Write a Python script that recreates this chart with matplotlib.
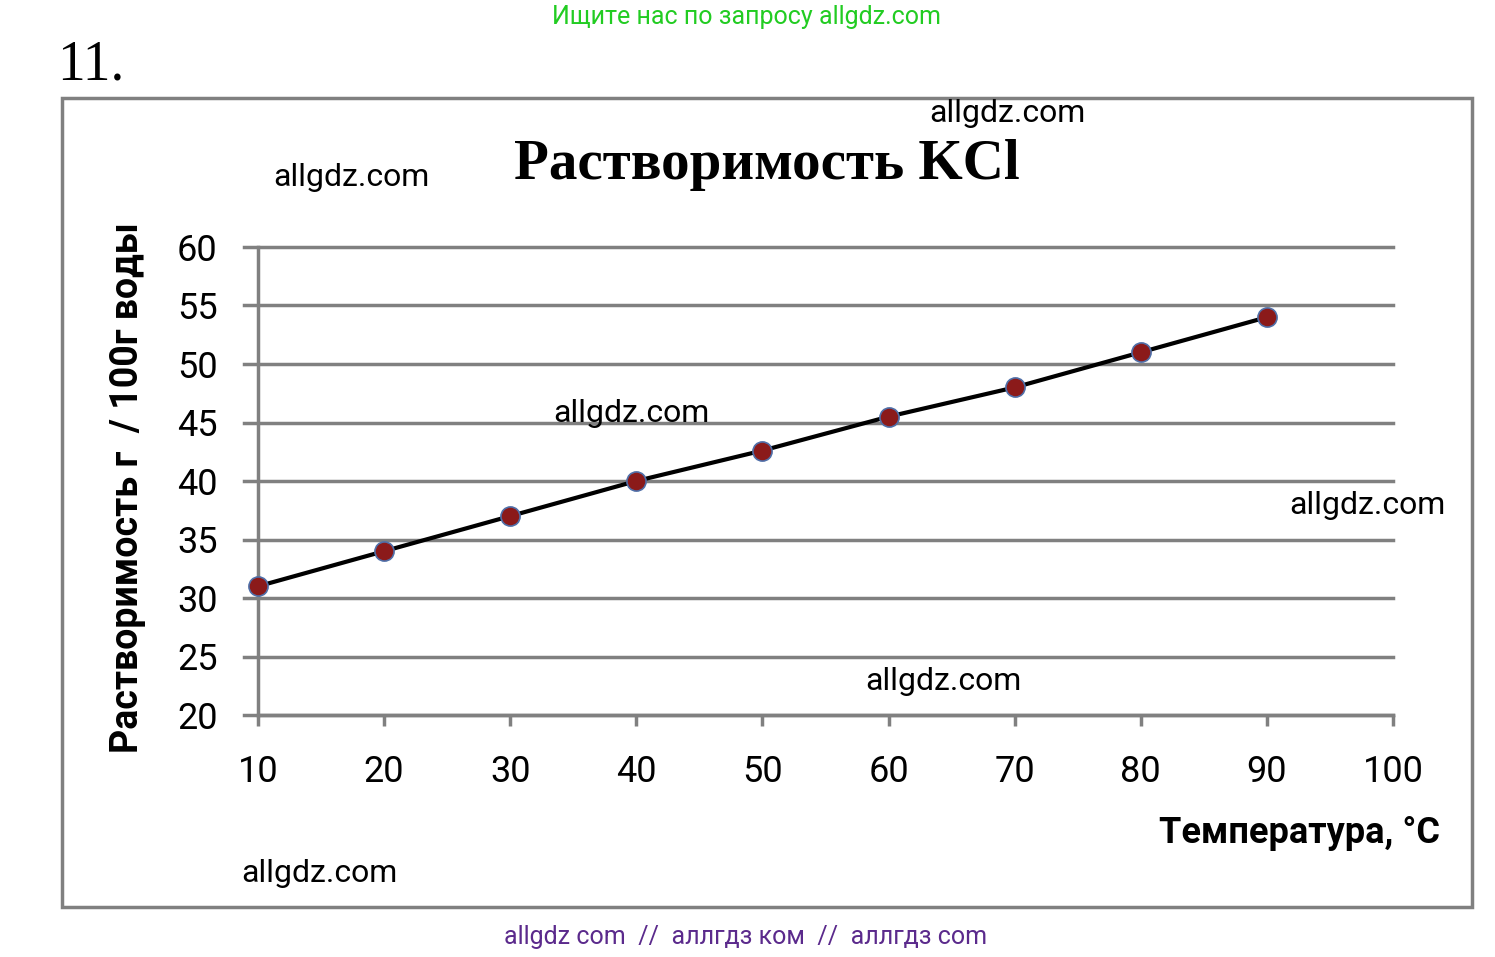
import matplotlib
matplotlib.use("Agg")
import matplotlib.pyplot as plt
from matplotlib.patches import Rectangle

temps = [10, 20, 30, 40, 50, 60, 70, 80, 90]
solub = [31, 34, 37, 40, 42.6, 45.5, 48, 51, 54]
xticks = [10, 20, 30, 40, 50, 60, 70, 80, 90, 100]
yticks = [20, 25, 30, 35, 40, 45, 50, 55, 60]

W, H = 1495, 957
fig = plt.figure(figsize=(W/100, H/100), dpi=100)
def fx(p): return p/W
def fy(p): return 1-p/H

fig.patches.append(Rectangle((fx(62), fy(907)), fx(1472)-fx(62), fy(98)-fy(907),
                             transform=fig.transFigure, fill=False, ec='#808080', lw=2.5))

ax = fig.add_axes([fx(258), fy(715), fx(1393)-fx(258), fy(247)-fy(715)])
ax.set_xlim(10, 100); ax.set_ylim(20, 60)
for y in yticks:
    ax.plot([8.9, 100], [y, y], color='#808080', lw=2.5, clip_on=False, zorder=1)
ax.plot(temps, solub, color='black', lw=3, zorder=2)
ax.scatter(temps, solub, s=190, color='#8B1A1A', edgecolors='#4F6FA8', linewidths=1.2,
           zorder=3, clip_on=False)
for s in ['top', 'right']:
    ax.spines[s].set_visible(False)
for s in ['left', 'bottom']:
    ax.spines[s].set_color('#808080'); ax.spines[s].set_linewidth(2.5)
ax.set_xticks(xticks); ax.set_yticks(yticks)
ax.tick_params(axis='y', length=0, pad=29, labelsize=26)
ax.tick_params(axis='x', length=8, width=2.5, color='#808080', pad=20, labelsize=26)
for t in ax.get_xticklabels() + ax.get_yticklabels():
    t.set_fontfamily('Roboto')

fig.text(fx(128), fy(488), 'Растворимость г  / 100г воды', rotation=90, ha='center', va='center',
         fontsize=27, fontweight='bold', family='Roboto')
fig.text(fx(1440), fy(833), 'Температура, °C', ha='right', va='center', fontsize=26,
         fontweight='bold', family='Roboto')
fig.text(fx(767), fy(165), 'Растворимость KCl', ha='center', va='center', fontsize=41,
         fontweight='bold', family='Liberation Serif')
fig.text(fx(57), fy(65), '11.', ha='left', va='center', fontsize=40, family='Liberation Serif')
fig.text(fx(746), fy(17), 'Ищите нас по запросу allgdz.com', ha='center', va='center',
         fontsize=18, color='#22CC22', family='Roboto')
fig.text(fx(746), fy(937), 'allgdz com  //  аллгдз ком  //  аллгдз com', ha='center', va='center',
         fontsize=18, color='#5B2A8C', family='Roboto')
for x, y in [(1007, 113), (351, 178), (631, 413), (1367, 506), (943, 682), (319, 873)]:
    fig.text(fx(x), fy(y), 'allgdz.com', ha='center', va='center', fontsize=23, family='Roboto')

fig.savefig('out.png', dpi=100)
